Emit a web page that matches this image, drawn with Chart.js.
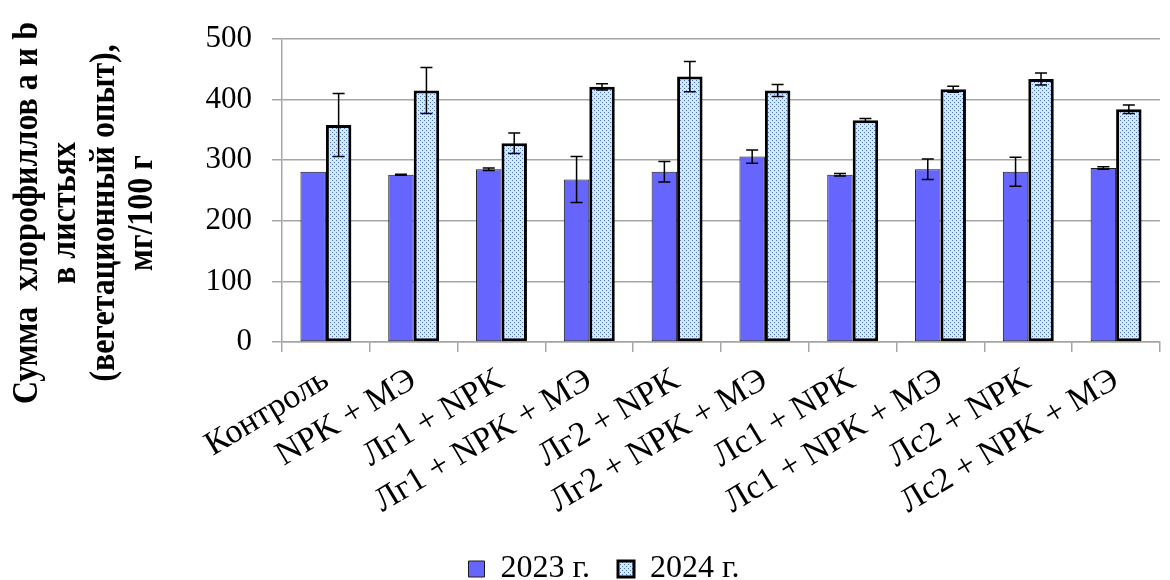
<!DOCTYPE html>
<html>
<head>
<meta charset="utf-8">
<script src="https://cdn.jsdelivr.net/npm/chart.js@4.4.1/dist/chart.umd.min.js"></script>
<style>
  html, body { margin: 0; padding: 0; background: #fff; }
</style>
</head>
<body>
<canvas id="myChart" width="1170" height="580"></canvas>
<script>
const categories = ['Контроль', 'NPK + МЭ', 'Лг1 + NPK', 'Лг1 + NPK + МЭ', 'Лг2 + NPK',
    'Лг2 + NPK + МЭ', 'Лс1 + NPK', 'Лс1 + NPK + МЭ', 'Лс2 + NPK', 'Лс2 + NPK + МЭ'];
const values2023 = [281, 276, 285, 268, 281, 306, 276, 285, 281, 287];
const errors2023 = [0, 1, 2, 38, 17, 11, 2, 17, 24, 2];
const values2024 = [358, 415, 328, 421, 438, 415, 366, 417, 434, 384];
const errors2024 = [52, 38, 17, 5, 25, 10, 3, 5, 10, 7];
const yTicks = [0, 100, 200, 300, 400, 500];
const yTitleLines = ['Сумма  хлорофиллов a и b', 'в листьях', '(вегетационный опыт),', 'мг/100 г'];
const seriesNames = ['2023 г.', '2024 г.'];

const FONT = '"Liberation Serif", "Times New Roman", serif';
const GRID = '#a6a6a6';

// dotted light blue fill like the office chart
function dotPattern() {
    const c = document.createElement('canvas');
    c.width = 4;
    c.height = 4;
    const g = c.getContext('2d');
    g.fillStyle = '#d2eafb';
    g.fillRect(0, 0, 4, 4);
    g.fillStyle = '#4f74c0';
    g.fillRect(0, 0, 1, 1);
    g.fillRect(2, 2, 1, 1);
    return g.createPattern(c, 'repeat');
}

const errorBars = {
    id: 'errorBars',
    afterDatasetsDraw(chart) {
        const ctx = chart.ctx;
        const y = chart.scales.y;
        chart.data.datasets.forEach((ds, di) => {
            const meta = chart.getDatasetMeta(di);
            meta.data.forEach((bar, i) => {
                const v = ds.data[i], e = ds.errors[i];
                if (!e) return;
                const top = y.getPixelForValue(v + e);
                const bot = y.getPixelForValue(v - e);
                ctx.save();
                ctx.strokeStyle = '#000';
                ctx.lineWidth = 1.5;
                ctx.beginPath();
                ctx.moveTo(bar.x, top);
                ctx.lineTo(bar.x, bot);
                ctx.moveTo(bar.x - 6, top);
                ctx.lineTo(bar.x + 6, top);
                ctx.moveTo(bar.x - 6, bot);
                ctx.lineTo(bar.x + 6, bot);
                ctx.stroke();
                ctx.restore();
            });
        });
    }
};

const yTitle = {
    id: 'yTitle',
    afterDraw(chart) {
        const ctx = chart.ctx;
        ctx.save();
        ctx.font = 'bold 32px ' + FONT;
        ctx.fillStyle = '#000';
        ctx.textAlign = 'center';
        ctx.textBaseline = 'middle';
        yTitleLines.forEach((line, i) => {
            ctx.save();
            ctx.translate(27 + i * 38.5, 213);
            ctx.rotate(-Math.PI / 2);
            ctx.scale(1, 1.15);
            ctx.fillText(line, 0, 0);
            ctx.restore();
        });
        ctx.restore();
    }
};

const ctx = document.getElementById('myChart');

new Chart(ctx, {
    type: 'bar',
    data: {
        labels: categories,
        datasets: [{
            label: seriesNames[0],
            data: values2023,
            errors: errors2023,
            backgroundColor: '#6666ff',
            borderColor: '#1a1a1a',
            borderWidth: 1,
            borderSkipped: false,
            categoryPercentage: 0.58,
            barPercentage: 1
        }, {
            label: seriesNames[1],
            data: values2024,
            errors: errors2024,
            backgroundColor: dotPattern(),
            borderColor: '#000',
            borderWidth: 3,
            borderSkipped: false,
            categoryPercentage: 0.58,
            barPercentage: 1
        }]
    },
    options: {
        responsive: false,
        animation: false,
        layout: {
            padding: { top: 39, left: 48, right: 10, bottom: -15 }
        },
        plugins: {
            tooltip: { enabled: false },
            legend: {
                position: 'bottom',
                labels: {
                    color: '#000',
                    font: { family: FONT, size: 32 },
                    boxWidth: 16,
                    boxHeight: 16,
                    padding: 28
                }
            }
        },
        scales: {
            x: {
                afterFit(scale) { scale.height = 183; },
                grid: {
                    offset: true,
                    drawOnChartArea: false,
                    color: GRID,
                    lineWidth: 1.5,
                    tickLength: 10
                },
                border: { color: GRID, width: 1.5 },
                ticks: {
                    color: '#000',
                    font: { family: FONT, size: 34 },
                    minRotation: 31,
                    maxRotation: 31,
                    autoSkip: false,
                    padding: 8
                }
            },
            y: {
                min: 0,
                max: 500,
                afterFit(scale) { scale.width = 234; },
                afterBuildTicks(scale) { scale.ticks = yTicks.map(v => ({ value: v })); },
                grid: {
                    color: GRID,
                    lineWidth: 1.5,
                    tickLength: 10
                },
                border: { color: GRID, width: 1.5 },
                ticks: {
                    color: '#000',
                    font: { family: FONT, size: 31 },
                    padding: 20
                }
            }
        }
    },
    plugins: [errorBars, yTitle]
});
</script>
</body>
</html>
